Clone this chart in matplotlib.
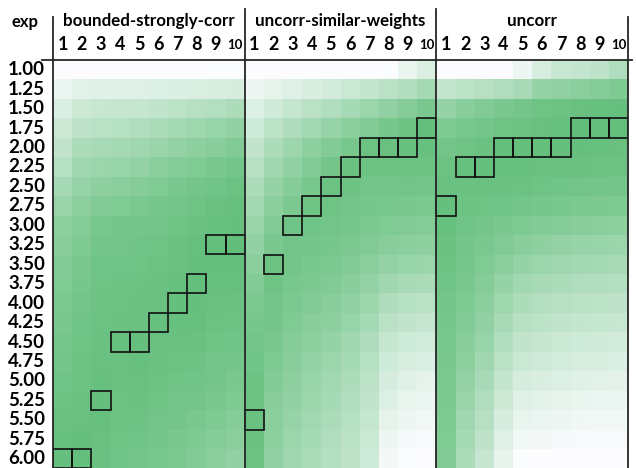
import numpy as np
import matplotlib
matplotlib.use("Agg")
import matplotlib.pyplot as plt
from matplotlib.colors import LinearSegmentedColormap
from matplotlib.patches import Rectangle
from matplotlib.lines import Line2D

exps = ["1.00", "1.25", "1.50", "1.75", "2.00", "2.25", "2.50", "2.75", "3.00",
        "3.25", "3.50", "3.75", "4.00", "4.25", "4.50", "4.75", "5.00", "5.25",
        "5.50", "5.75", "6.00"]
col_labels = ["1", "2", "3", "4", "5", "6", "7", "8", "9", "10"]
panel_names = ["bounded-strongly-corr", "uncorr-similar-weights", "uncorr"]

bounded_strongly_corr = [
    [0, 0, 0, 0, 0, 0, 0, 0, 1, 1],
    [11, 17, 18, 18, 19, 20, 21, 22, 23, 25],
    [21, 31, 34, 35, 36, 39, 42, 45, 48, 52],
    [31, 40, 44, 46, 49, 53, 57, 61, 65, 69],
    [38, 52, 55, 57, 60, 64, 68, 72, 76, 80],
    [46, 60, 63, 65, 68, 73, 77, 81, 85, 89],
    [56, 66, 71, 74, 77, 81, 85, 88, 91, 94],
    [64, 72, 79, 81, 84, 87, 89, 92, 95, 97],
    [72, 78, 86, 88, 89, 90, 92, 95, 97, 98],
    [76, 82, 89, 90, 91, 92, 95, 97, 99, 100],
    [79, 85, 91, 91, 92, 94, 96, 98, 98, 98],
    [81, 87, 92, 93, 94, 95, 97, 99, 97, 97],
    [83, 89, 93, 94, 95, 96, 98, 98, 96, 95],
    [85, 91, 94, 95, 96, 97, 97, 97, 94, 93],
    [87, 92, 95, 97, 98, 96, 96, 95, 92, 91],
    [89, 93, 96, 96, 97, 95, 94, 93, 90, 88],
    [91, 94, 97, 95, 96, 94, 92, 91, 88, 85],
    [93, 95, 98, 94, 95, 92, 90, 88, 85, 82],
    [95, 96, 97, 93, 93, 90, 88, 85, 82, 78],
    [97, 98, 96, 92, 91, 88, 85, 82, 78, 74],
    [98, 99, 95, 91, 89, 86, 83, 79, 74, 69],
]

uncorr_similar_weights = [
    [0, 0, 0, 0, 0, 0, 0, 1, 12, 22],
    [10, 15, 19, 23, 27, 32, 37, 43, 50, 57],
    [20, 29, 36, 43, 49, 56, 63, 70, 78, 85],
    [30, 42, 51, 59, 66, 73, 80, 87, 93, 99],
    [38, 52, 62, 71, 79, 86, 94, 96, 97, 97],
    [45, 60, 70, 79, 88, 95, 93, 93, 94, 93],
    [52, 67, 77, 86, 94, 93, 90, 90, 90, 89],
    [58, 73, 83, 92, 92, 90, 87, 86, 85, 84],
    [64, 79, 91, 91, 90, 87, 83, 81, 80, 78],
    [69, 85, 90, 89, 87, 83, 79, 75, 73, 71],
    [74, 93, 88, 86, 84, 79, 74, 68, 65, 63],
    [79, 92, 86, 83, 80, 75, 68, 60, 55, 53],
    [84, 90, 84, 80, 76, 70, 62, 51, 46, 44],
    [87, 88, 81, 76, 72, 65, 56, 43, 38, 35],
    [89, 85, 78, 72, 67, 60, 51, 36, 30, 28],
    [91, 82, 75, 68, 63, 56, 46, 30, 24, 21],
    [93, 79, 72, 65, 59, 52, 42, 25, 18, 15],
    [94, 76, 69, 62, 56, 49, 39, 20, 13, 11],
    [96, 74, 66, 59, 53, 46, 36, 15, 9, 7],
    [95, 72, 63, 56, 50, 43, 33, 10, 5, 3],
    [94, 70, 60, 53, 47, 41, 30, 6, 1, 0],
]

uncorr = [
    [0, 0, 0, 0, 9, 24, 34, 37, 40, 50],
    [37, 42, 45, 50, 55, 67, 70, 74, 78, 82],
    [67, 75, 80, 85, 88, 92, 94, 96, 97, 98],
    [82, 86, 89, 92, 94, 96, 97, 100, 99, 99],
    [90, 92, 95, 99, 99, 99, 98, 98, 97, 96],
    [94, 97, 98, 97, 97, 96, 96, 95, 94, 93],
    [96, 95, 95, 95, 94, 92, 91, 90, 89, 88],
    [98, 93, 92, 91, 89, 87, 86, 84, 83, 82],
    [97, 91, 88, 85, 82, 79, 77, 75, 74, 72],
    [95, 89, 85, 80, 75, 71, 68, 66, 65, 63],
    [93, 87, 81, 74, 67, 63, 60, 58, 57, 55],
    [91, 85, 77, 67, 59, 55, 52, 50, 49, 47],
    [89, 82, 73, 61, 52, 48, 45, 43, 42, 40],
    [87, 79, 69, 55, 45, 42, 39, 37, 36, 34],
    [86, 76, 65, 49, 38, 35, 32, 30, 29, 27],
    [85, 72, 60, 43, 32, 29, 26, 24, 23, 21],
    [84, 68, 55, 37, 25, 23, 20, 18, 17, 16],
    [83, 64, 50, 31, 19, 17, 14, 12, 11, 11],
    [82, 60, 45, 25, 13, 11, 9, 8, 7, 7],
    [81, 56, 40, 19, 7, 6, 5, 4, 4, 4],
    [80, 52, 35, 14, 1, 0, 0, 0, 0, 0],
]

panels = [bounded_strongly_corr, uncorr_similar_weights, uncorr]

W, H = 636, 468
fig = plt.figure(figsize=(W / 100, H / 100), dpi=100)
FONT = ["Lato", "DejaVu Sans"]

def fx(x):
    return x / W

def fy(y):
    return 1 - y / H

grid_left, grid_right, grid_top = 53, 628, 60
row_h = 19.45
grid_bottom = grid_top + row_h * len(exps)

cmap = LinearSegmentedColormap.from_list("excel_wg", ["#FCFCFF", "#63BE7B"])

ax = fig.add_axes([fx(grid_left), fy(grid_bottom), (grid_right - grid_left) / W,
                   (grid_bottom - grid_top) / H])
ncol = len(col_labels)
for p, data in enumerate(panels):
    arr = np.array(data, dtype=float)
    xs = np.arange(ncol + 1) + p * ncol
    ys = np.arange(len(exps) + 1)
    ax.pcolormesh(xs, ys, arr, cmap=cmap, vmin=0, vmax=100, shading="flat",
                  edgecolors="face", linewidth=0.0)
    best = arr.argmax(axis=0)
    for c in range(ncol):
        ax.add_patch(Rectangle((p * ncol + c, best[c]), 1, 1, fill=False,
                               edgecolor="#111111", linewidth=1.2, zorder=5))
ax.set_xlim(0, ncol * 3)
ax.set_ylim(len(exps), 0)
ax.axis("off")

# panel divider lines and header line
col_w = (grid_right - grid_left) / (ncol * 3)
for p in range(4):
    x = grid_left + p * ncol * col_w
    top = 17 if p in (0, 3) else 9
    fig.add_artist(Line2D([fx(x), fx(x)], [fy(top), fy(H + 2)], color="#262626",
                          linewidth=1.3, zorder=10))
fig.add_artist(Line2D([fx(42), fx(632)], [fy(grid_top), fy(grid_top)],
                      color="#262626", linewidth=1.3, zorder=10))

# header texts
fig.text(fx(25), fy(22), "exp", ha="center", va="center", fontsize=12,
         fontweight="bold", family=FONT)
for p, name in enumerate(panel_names):
    cx = grid_left + (p * ncol + ncol / 2) * col_w
    fig.text(fx(cx), fy(21), name, ha="center", va="center", fontsize=12.2,
             fontweight="bold", family=FONT)
    for c, lab in enumerate(col_labels):
        x = grid_left + (p * ncol + c + 0.5) * col_w
        fs = 9.5 if len(lab) > 1 else 13
        fig.text(fx(x), fy(45), lab, ha="center", va="center", fontsize=fs,
                 fontweight="bold", family=FONT)

for r, lab in enumerate(exps):
    y = grid_top + (r + 0.5) * row_h
    fig.text(fx(45), fy(y), lab, ha="right", va="center", fontsize=13.5,
             fontweight="bold", family=FONT)

fig.savefig("out.png", dpi=100)
